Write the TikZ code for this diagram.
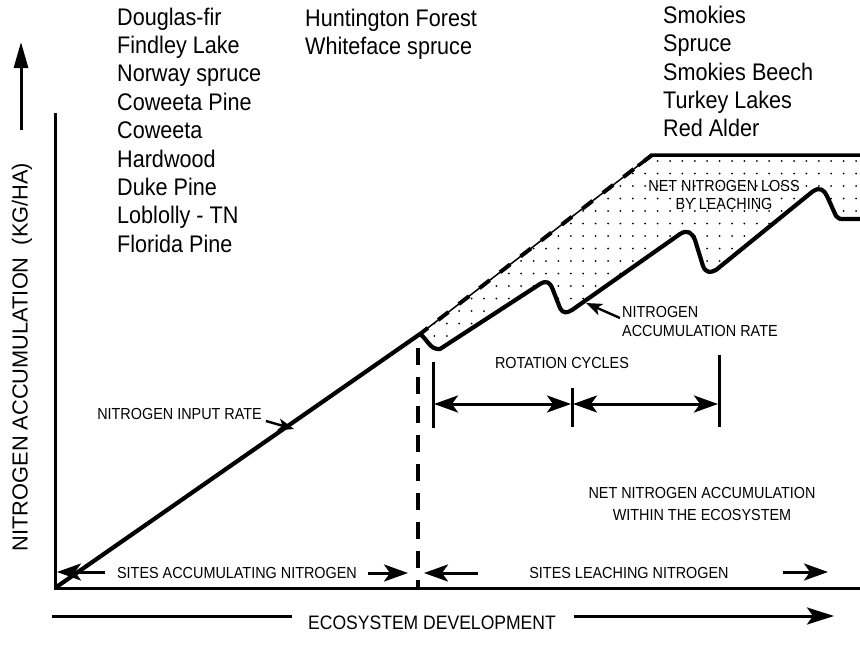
\documentclass[tikz,border=0pt]{standalone}
\usepackage{fontspec}
\setmainfont[FakeStretch=0.9]{Liberation Sans}
\newfontfamily\plainsans{Liberation Sans}
\usetikzlibrary{arrows.meta,calc}
\begin{document}
\begin{tikzpicture}[x=1pt,y=-1pt,
  spe/.style={font=\fontsize{24}{28}\selectfont, anchor=base west, inner sep=0pt},
  lbl/.style={font=\fontsize{16}{19}\selectfont, inner sep=0pt},
  heavy/.style={line width=4.2pt, line join=round},
  axis/.style={line width=3pt},
  tipS/.tip={Stealth[length=24pt,width=17pt,inset=6pt]},
  arr/.style={line width=3pt, -tipS},
  darr/.style={line width=3pt, tipS-tipS},
  small arr/.style={line width=2.4pt, -{Stealth[length=16pt,width=12pt,inset=4pt]}},
  tick/.style={line width=3pt}]
\useasboundingbox (0,0) rectangle (860,662);

% key coordinates
\coordinate (O) at (55,588);
\coordinate (Ytop) at (55,113);
\coordinate (Xend) at (860,588);
\coordinate (P) at (420,334);
\coordinate (C) at (652,155);
\coordinate (R) at (860,155);

% dotted region
\begin{scope}
\clip (P) -- (C) -- (R) -- (860,219) -- (845,219)
  .. controls (840,219) and (838,219) .. (836,216) -- (827,196)
  .. controls (824,190) and (820,186) .. (812,192) -- (716,270)
  .. controls (710,273) and (706,273) .. (703,266) -- (695,240)
  .. controls (692,233) and (688,229) .. (680,234) -- (572,310)
  .. controls (567,313) and (563,314) .. (560,308) -- (553,290)
  .. controls (550,282) and (547,280) .. (540,284) -- (440,349)
  .. controls (430,350) and (428,340) .. (P) -- cycle;
\foreach \i in {0,...,36}
  \foreach \j in {0,...,16}
    \fill ({422+12.4*\i},{161+12.5*\j}) circle (1pt);
\end{scope}

% axes
\draw[axis] (Ytop) -- (O) -- (Xend);

% input line and accumulation curve
\draw[heavy] (O) -- (P);
\draw[heavy] (P) .. controls (428,340) and (430,350) .. (440,349) -- (540,284)
  .. controls (547,280) and (550,282) .. (553,290) -- (560,308)
  .. controls (563,314) and (567,313) .. (572,310) -- (680,234)
  .. controls (688,229) and (692,233) .. (695,240) -- (703,266)
  .. controls (706,273) and (710,273) .. (716,270) -- (812,192)
  .. controls (820,186) and (824,190) .. (827,196) -- (836,216)
  .. controls (838,219) and (840,219) .. (845,219) -- (860,219);

% upper boundary: thin line with heavy dashes
\draw[line width=1.5pt] (P) -- (C);
\draw[line width=4pt, dash pattern=on 13pt off 13pt, dash phase=3pt] (P) -- (C);
\draw[heavy, line width=3.5pt] ($(P)!0.94!(C)$) -- (C) -- (R);

% vertical dashed divider
\coordinate (Dtop) at (418,348);
\coordinate (Dbot) at (418,588);
\draw[line width=3.5pt, dash pattern=on 17pt off 12pt] (Dtop) -- (Dbot);

% rotation cycles
\coordinate (T1a) at (433,362); \coordinate (T1b) at (433,428);
\coordinate (T2a) at (572,388); \coordinate (T2b) at (572,427);
\coordinate (T3a) at (719,355); \coordinate (T3b) at (719,427);
\draw[tick] (T1a) -- (T1b);
\draw[tick] (T2a) -- (T2b);
\draw[tick] (T3a) -- (T3b);
\coordinate (A1) at (434,404); \coordinate (A2) at (571,404);
\coordinate (A3) at (573,404); \coordinate (A4) at (718,404);
\draw[darr] (A1) -- (A2);
\draw[darr] (A3) -- (A4);
\node[lbl] (rot) at (562,363) {ROTATION CYCLES};

% labels in the plot
\node[lbl, anchor=east] (inrate) at (262,414) {NITROGEN INPUT RATE};
\coordinate (inTail) at (266,421);
\coordinate (inTip) at (294,429);
\draw[small arr] (inTail) -- (inTip);

\node[lbl, align=left, anchor=west, font=\fontsize{16}{19}\selectfont] (accrate) at (622,321) {NITROGEN\\ACCUMULATION RATE};
\coordinate (acTail) at (620,318);
\coordinate (acTip) at (586,303);
\draw[small arr] (acTail) -- (acTip);

\node[lbl, align=center, font=\fontsize{16}{17.5}\selectfont] (loss) at (724,195) {NET NITROGEN LOSS\\BY LEACHING};
\node[lbl, align=center, font=\fontsize{16}{21.5}\selectfont] (netacc) at (702,504) {NET NITROGEN ACCUMULATION\\WITHIN THE ECOSYSTEM};

% bottom labels
\node[lbl] (sacc) at (237,573) {SITES ACCUMULATING NITROGEN};
\node[lbl] (sleach) at (629,573) {SITES LEACHING NITROGEN};
\coordinate (b1t) at (105,572); \coordinate (b1h) at (57,572);
\coordinate (b2t) at (368,573); \coordinate (b2h) at (408,573);
\coordinate (b3t) at (478,573); \coordinate (b3h) at (424,573);
\coordinate (b4t) at (783,572); \coordinate (b4h) at (828,572);
\draw[arr] (b1t) -- (b1h);
\draw[arr] (b2t) -- (b2h);
\draw[arr] (b3t) -- (b3h);
\draw[arr] (b4t) -- (b4h);

% x-axis title
\node[font=\fontsize{19.5}{22}\selectfont, inner sep=0pt] (xt) at (432,623) {ECOSYSTEM DEVELOPMENT};
\coordinate (xl1) at (52,616); \coordinate (xl2) at (292,616);
\coordinate (xr1) at (574,616); \coordinate (xr2) at (834,616);
\draw[line width=3pt] (xl1) -- (xl2);
\draw[line width=3pt, -{Stealth[length=27pt,width=17pt,inset=6pt]}] (xr1) -- (xr2);

% y-axis title
\node[font=\plainsans\fontsize{21.8}{24}\selectfont, rotate=90, inner sep=0pt] (yt) at (22,357) {NITROGEN ACCUMULATION\ \ (KG/HA)};
\coordinate (ya1) at (21,130); \coordinate (ya2) at (21,42);
\draw[line width=3pt, -{Triangle[length=26pt,width=14pt]}] (ya1) -- (ya2);

% site lists
\foreach \t [count=\k from 0] in {Douglas-fir,Findley Lake,Norway spruce,Coweeta Pine,Coweeta,Hardwood,Duke Pine,Loblolly - TN,Florida Pine}
  \node[spe] (la\k) at (117,{25+28.4*\k}) {\t};
\foreach \t [count=\k from 0] in {Huntington Forest,Whiteface spruce}
  \node[spe] (lb\k) at (305,{26+28.4*\k}) {\t};
\foreach \t [count=\k from 0] in {Smokies,Spruce,Smokies Beech,Turkey Lakes,Red Alder}
  \node[spe] (lc\k) at (663,{23.5+28.3*\k}) {\t};
\end{tikzpicture}
\end{document}
